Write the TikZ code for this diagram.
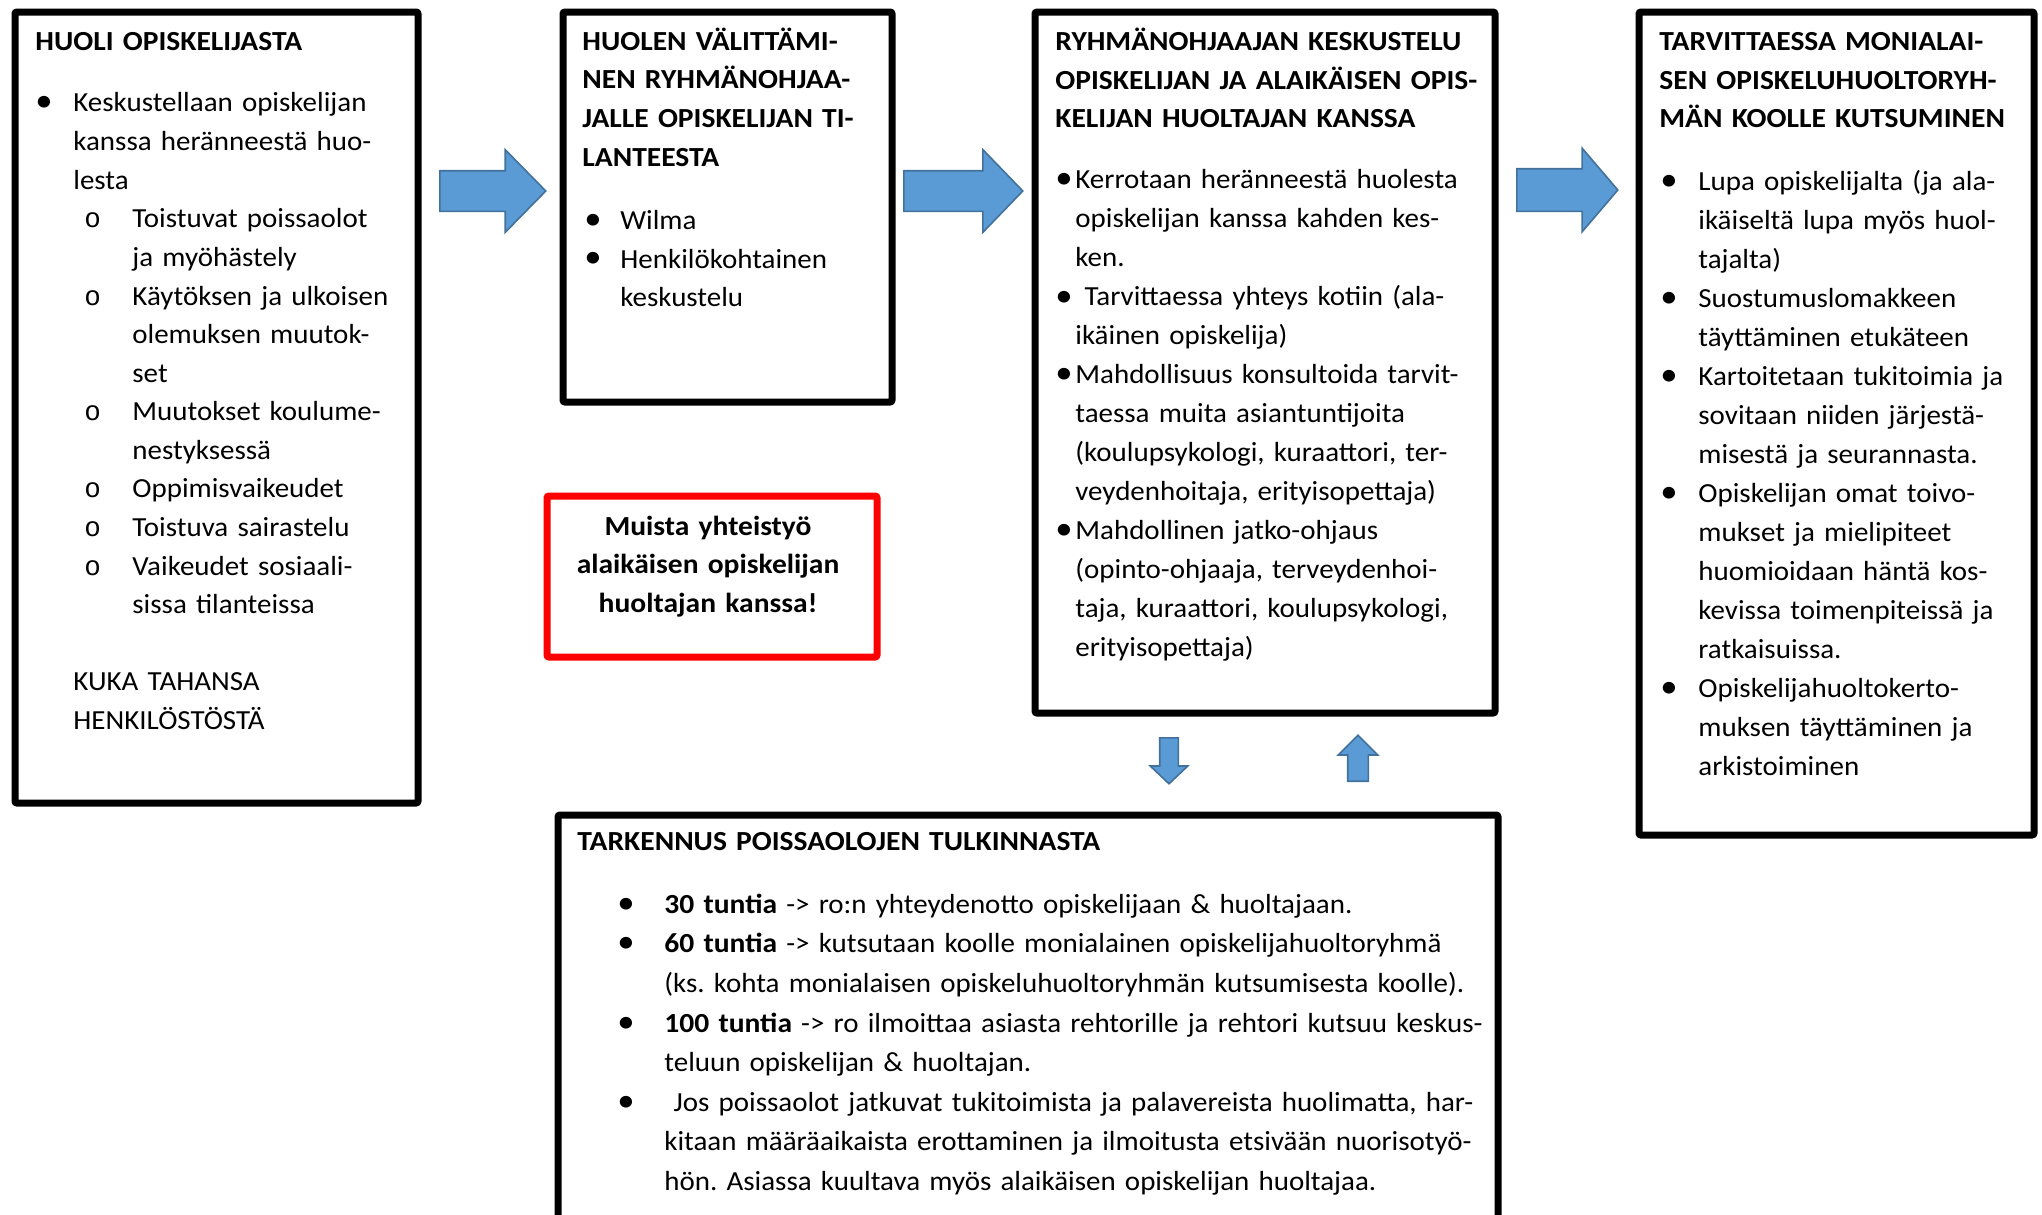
\documentclass[tikz,border=0pt]{standalone}
\usepackage{graphicx}
\usepackage{fontspec}
\setmainfont{Carlito}[UprightFeatures={FakeStretch=1.05}, BoldFeatures={FakeStretch=1.07}]
\newfontfamily\ofont{Liberation Mono}
\usetikzlibrary{shapes.arrows}

\definecolor{arrowfill}{HTML}{5B9BD5}
\definecolor{arrowline}{HTML}{41719C}
\definecolor{warnred}{HTML}{FF0000}

% bullet at #1, text starts at #1+#2
\newcommand\bl[2]{\hspace*{#1}\makebox[#2][l]{\scalebox{1.2}{\textbullet}}}
\newcommand\ol[2]{\hspace*{#1}\makebox[#2][l]{{\ofont o}}}
\newcommand\cl[1]{\hspace*{#1}}

\tikzset{
  frame/.style = {draw, line width=3.5pt, rounded corners=1pt, anchor=north west, inner sep=0pt},
  body/.style = {anchor=base west, inner sep=0pt, font=\fontsize{13.8}{19.4}\selectfont},
  blockarrow/.style = {single arrow, fill=arrowfill, draw=arrowline, line width=0.8pt,
    single arrow head indent=0pt, anchor=tail}
}

\begin{document}
\frenchspacing
\begin{tikzpicture}[x=0.5pt, y=-0.5pt]
  \useasboundingbox (0,0) rectangle (2042,1215);
  \clip (0,0) rectangle (2042,1215);

  % frames
  \node[frame, minimum width=201.5pt, minimum height=395.5pt] (huoli) at (11.5,8.5) {};
  \node[frame, minimum width=164.5pt, minimum height=195pt] (valitys) at (559.5,8.5) {};
  \node[frame, minimum width=230pt, minimum height=350.5pt] (keskustelu) at (1031.5,8.5) {};
  \node[frame, minimum width=197.5pt, minimum height=411.5pt] (ryhma) at (1635.5,8.5) {};
  \node[frame, minimum width=470pt, minimum height=211.75pt] (tarkennus) at (554.5,811.5) {};
  \node[frame, draw=warnred, minimum width=165pt, minimum height=80.5pt] (muista) at (543.5,492.5) {};

  % box texts
  \node[body, text width=190pt, font=\fontsize{13.8}{19.3}\selectfont] (huolitxt) at (35,50) {%
    \textbf{HUOLI OPISKELIJASTA}\\[11.7pt]
    \bl{0pt}{19pt}Keskustellaan opiskelijan\\
    \cl{19pt}kanssa heränneestä huo-\\
    \cl{19pt}lesta\\
    \ol{24.5pt}{24pt}Toistuvat poissaolot\\
    \cl{48.5pt}ja myöhästely\\
    \ol{24.5pt}{24pt}Käytöksen ja ulkoisen\\
    \cl{48.5pt}olemuksen muutok-\\
    \cl{48.5pt}set\\
    \ol{24.5pt}{24pt}Muutokset koulume-\\
    \cl{48.5pt}nestyksessä\\
    \ol{24.5pt}{24pt}Oppimisvaikeudet\\
    \ol{24.5pt}{24pt}Toistuva sairastelu\\
    \ol{24.5pt}{24pt}Vaikeudet sosiaali-\\
    \cl{48.5pt}sissa tilanteissa\\
    \mbox{}\\
    \cl{19pt}KUKA TAHANSA\\
    \cl{19pt}HENKILÖSTÖSTÄ};

  \node[body, text width=160pt] (valitystxt) at (582,50) {%
    \textbf{HUOLEN VÄLITTÄMI-}\\
    \textbf{NEN RYHMÄNOHJAA-}\\
    \textbf{JALLE OPISKELIJAN TI-}\\
    \textbf{LANTEESTA}\\[12pt]
    \bl{1pt}{18pt}Wilma\\
    \bl{1pt}{18pt}Henkilökohtainen\\
    \cl{19pt}keskustelu};

  \node[body, text width=220pt, font=\fontsize{13.8}{19.5}\selectfont] (keskustelutxt) at (1055,50) {%
    \textbf{RYHMÄNOHJAAJAN KESKUSTELU}\\
    \textbf{OPISKELIJAN JA ALAIKÄISEN OPIS-}\\
    \textbf{KELIJAN HUOLTAJAN KANSSA}\\[11pt]
    \bl{0pt}{10pt}Kerrotaan heränneestä huolesta\\
    \cl{10pt}opiskelijan kanssa kahden kes-\\
    \cl{10pt}ken.\\
    \bl{0pt}{10pt}\ Tarvittaessa yhteys kotiin (ala-\\
    \cl{10pt}ikäinen opiskelija)\\
    \bl{0pt}{10pt}Mahdollisuus konsultoida tarvit-\\
    \cl{10pt}taessa muita asiantuntijoita\\
    \cl{10pt}(koulupsykologi, kuraattori, ter-\\
    \cl{10pt}veydenhoitaja, erityisopettaja)\\
    \bl{0pt}{10pt}Mahdollinen jatko-ohjaus\\
    \cl{10pt}(opinto-ohjaaja, terveydenhoi-\\
    \cl{10pt}taja, kuraattori, koulupsykologi,\\
    \cl{10pt}erityisopettaja)};

  \node[body, text width=185pt, font=\fontsize{13.8}{19.5}\selectfont] (ryhmatxt) at (1659,50) {%
    \textbf{TARVITTAESSA MONIALAI-}\\
    \textbf{SEN OPISKELUHUOLTORYH-}\\
    \textbf{MÄN KOOLLE KUTSUMINEN}\\[11.8pt]
    \bl{0.5pt}{19pt}Lupa opiskelijalta (ja ala-\\
    \cl{19.5pt}ikäiseltä lupa myös huol-\\
    \cl{19.5pt}tajalta)\\
    \bl{0.5pt}{19pt}Suostumuslomakkeen\\
    \cl{19.5pt}täyttäminen etukäteen\\
    \bl{0.5pt}{19pt}Kartoitetaan tukitoimia ja\\
    \cl{19.5pt}sovitaan niiden järjestä-\\
    \cl{19.5pt}misestä ja seurannasta.\\
    \bl{0.5pt}{19pt}Opiskelijan omat toivo-\\
    \cl{19.5pt}mukset ja mielipiteet\\
    \cl{19.5pt}huomioidaan häntä kos-\\
    \cl{19.5pt}kevissa toimenpiteissä ja\\
    \cl{19.5pt}ratkaisuissa.\\
    \bl{0.5pt}{19pt}Opiskelijahuoltokerto-\\
    \cl{19.5pt}muksen täyttäminen ja\\
    \cl{19.5pt}arkistoiminen};

  \node[body, text width=460pt, font=\fontsize{13.8}{19.8}\selectfont] (tarkennustxt) at (577,850) {%
    \textbf{TARKENNUS POISSAOLOJEN TULKINNASTA}\\[11.8pt]
    \bl{20pt}{23.5pt}\textbf{30 tuntia} -> ro:n yhteydenotto opiskelijaan \& huoltajaan.\\
    \bl{20pt}{23.5pt}\textbf{60 tuntia} -> kutsutaan koolle monialainen opiskelijahuoltoryhmä\\
    \cl{43.5pt}(ks. kohta monialaisen opiskeluhuoltoryhmän kutsumisesta koolle).\\
    \bl{20pt}{23.5pt}\textbf{100 tuntia} -> ro ilmoittaa asiasta rehtorille ja rehtori kutsuu keskus-\\
    \cl{43.5pt}teluun opiskelijan \& huoltajan.\\
    \bl{20pt}{23.5pt}\ Jos poissaolot jatkuvat tukitoimista ja palavereista huolimatta, har-\\
    \cl{43.5pt}kitaan määräaikaista erottaminen ja ilmoitusta etsivään nuorisotyö-\\
    \cl{43.5pt}hön. Asiassa kuultava myös alaikäisen opiskelijan huoltajaa.};

  \node[anchor=base, inner sep=0pt, text width=160pt, align=center,
    font=\fontsize{13.8}{19.3}\selectfont\bfseries] (muistatxt) at (708,535)
    {Muista yhteistyö\\alaikäisen opiskelijan\\huoltajan kanssa!};

  % block arrows
  \node[blockarrow, minimum height=53pt, inner sep=9.75pt, single arrow head extend=10.5pt,
    single arrow tip angle=91] (nuoli1) at (439,191) {};
  \node[blockarrow, minimum height=59.5pt, inner sep=9.75pt, single arrow head extend=10.5pt,
    single arrow tip angle=92] (nuoli2) at (903,191) {};
  \node[blockarrow, minimum height=50.5pt, inner sep=10.25pt, single arrow head extend=10.25pt,
    single arrow tip angle=99] (nuoli3) at (1516,190) {};
  \node[blockarrow, minimum height=23pt, inner sep=4.25pt, single arrow head extend=4.75pt,
    single arrow tip angle=93, shape border rotate=270] (alas) at (1169,737) {};
  \node[blockarrow, minimum height=23pt, inner sep=4.75pt, single arrow head extend=4.75pt,
    single arrow tip angle=90, shape border rotate=90] (ylos) at (1358,782) {};
\end{tikzpicture}
\end{document}
